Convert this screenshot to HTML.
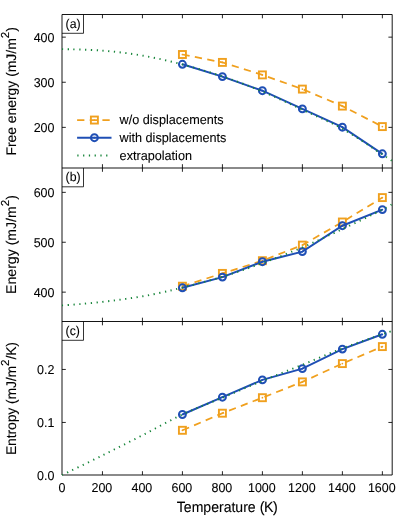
<!DOCTYPE html><html><head><meta charset="utf-8"><title>Chart</title><style>html,body{margin:0;padding:0;background:#fff}svg{display:block;will-change:transform;text-rendering:geometricPrecision}text{stroke:#000;stroke-width:0.08px;stroke-linejoin:round}.L{stroke-width:0.1px}</style></head><body><svg width="415" height="516" viewBox="0 0 415 516">
<rect width="415" height="516" fill="#fff"/>
<defs>
<clipPath id="c0"><rect x="61.4" y="13.9" width="331.4" height="154.7"/></clipPath>
<clipPath id="c1"><rect x="61.4" y="167.4" width="331.4" height="154.7"/></clipPath>
<clipPath id="c2"><rect x="61.4" y="320.9" width="331.4" height="154.7"/></clipPath>
</defs>
<path d="M83.5,14.5v18.8H62.0" fill="none" stroke="#000" stroke-width="0.8"/>
<path d="M83.5,168.0v18.8H62.0" fill="none" stroke="#000" stroke-width="0.8"/>
<path d="M83.5,321.5v18.8H62.0" fill="none" stroke="#000" stroke-width="0.8"/>
<path d="M62.0,14.5H392.2V475.0H62.0ZM62.0,168.0H392.2M62.0,321.5H392.2" fill="none" stroke="#000" stroke-width="0.92"/>
<text transform="translate(54.5,41.85) scale(1,1.03)" text-anchor="end" font-family="Liberation Sans, sans-serif" font-size="12.5" fill="#000">400</text>
<text transform="translate(54.5,86.96) scale(1,1.03)" text-anchor="end" font-family="Liberation Sans, sans-serif" font-size="12.5" fill="#000">300</text>
<text transform="translate(54.5,132.07) scale(1,1.03)" text-anchor="end" font-family="Liberation Sans, sans-serif" font-size="12.5" fill="#000">200</text>
<text transform="translate(54.5,197.05) scale(1,1.03)" text-anchor="end" font-family="Liberation Sans, sans-serif" font-size="12.5" fill="#000">600</text>
<text transform="translate(54.5,246.95) scale(1,1.03)" text-anchor="end" font-family="Liberation Sans, sans-serif" font-size="12.5" fill="#000">500</text>
<text transform="translate(54.5,296.85) scale(1,1.03)" text-anchor="end" font-family="Liberation Sans, sans-serif" font-size="12.5" fill="#000">400</text>
<text transform="translate(54.5,374.15) scale(1,1.03)" text-anchor="end" font-family="Liberation Sans, sans-serif" font-size="12.5" fill="#000">0.2</text>
<text transform="translate(54.5,427.15) scale(1,1.03)" text-anchor="end" font-family="Liberation Sans, sans-serif" font-size="12.5" fill="#000">0.1</text>
<text transform="translate(54.5,480.15) scale(1,1.03)" text-anchor="end" font-family="Liberation Sans, sans-serif" font-size="12.5" fill="#000">0.0</text>
<path d="M102.44,14.5v3.8M102.44,168.0v-3.8M102.44,168.0v3.8M102.44,321.5v-3.8M102.44,321.5v3.8M102.44,475.0v-3.8M142.43,14.5v3.8M142.43,168.0v-3.8M142.43,168.0v3.8M142.43,321.5v-3.8M142.43,321.5v3.8M142.43,475.0v-3.8M182.42,14.5v3.8M182.42,168.0v-3.8M182.42,168.0v3.8M182.42,321.5v-3.8M182.42,321.5v3.8M182.42,475.0v-3.8M222.41,14.5v3.8M222.41,168.0v-3.8M222.41,168.0v3.8M222.41,321.5v-3.8M222.41,321.5v3.8M222.41,475.0v-3.8M262.40,14.5v3.8M262.40,168.0v-3.8M262.40,168.0v3.8M262.40,321.5v-3.8M262.40,321.5v3.8M262.40,475.0v-3.8M302.39,14.5v3.8M302.39,168.0v-3.8M302.39,168.0v3.8M302.39,321.5v-3.8M302.39,321.5v3.8M302.39,475.0v-3.8M342.38,14.5v3.8M342.38,168.0v-3.8M342.38,168.0v3.8M342.38,321.5v-3.8M342.38,321.5v3.8M342.38,475.0v-3.8M382.37,14.5v3.8M382.37,168.0v-3.8M382.37,168.0v3.8M382.37,321.5v-3.8M382.37,321.5v3.8M382.37,475.0v-3.8M62.0,37.15h3.8M392.2,37.15h-3.8M62.0,82.26h3.8M392.2,82.26h-3.8M62.0,127.37h3.8M392.2,127.37h-3.8M62.0,192.35h3.8M392.2,192.35h-3.8M62.0,242.25h3.8M392.2,242.25h-3.8M62.0,292.15h3.8M392.2,292.15h-3.8M62.0,369.45h3.8M392.2,369.45h-3.8M62.0,422.45h3.8M392.2,422.45h-3.8" stroke="#000" stroke-width="0.85" fill="none"/>
<text transform="translate(61.90,491.8) scale(1,1.03)" text-anchor="middle" font-family="Liberation Sans, sans-serif" font-size="12.5" fill="#000">0</text>
<text transform="translate(101.89,491.8) scale(1,1.03)" text-anchor="middle" font-family="Liberation Sans, sans-serif" font-size="12.5" fill="#000">200</text>
<text transform="translate(141.88,491.8) scale(1,1.03)" text-anchor="middle" font-family="Liberation Sans, sans-serif" font-size="12.5" fill="#000">400</text>
<text transform="translate(181.87,491.8) scale(1,1.03)" text-anchor="middle" font-family="Liberation Sans, sans-serif" font-size="12.5" fill="#000">600</text>
<text transform="translate(221.86,491.8) scale(1,1.03)" text-anchor="middle" font-family="Liberation Sans, sans-serif" font-size="12.5" fill="#000">800</text>
<text transform="translate(261.85,491.8) scale(1,1.03)" text-anchor="middle" font-family="Liberation Sans, sans-serif" font-size="12.5" fill="#000">1000</text>
<text transform="translate(301.84,491.8) scale(1,1.03)" text-anchor="middle" font-family="Liberation Sans, sans-serif" font-size="12.5" fill="#000">1200</text>
<text transform="translate(341.83,491.8) scale(1,1.03)" text-anchor="middle" font-family="Liberation Sans, sans-serif" font-size="12.5" fill="#000">1400</text>
<text transform="translate(381.82,491.8) scale(1,1.03)" text-anchor="middle" font-family="Liberation Sans, sans-serif" font-size="12.5" fill="#000">1600</text>
<g clip-path="url(#c0)">
<polyline points="182.42,54.50 222.41,62.40 262.40,74.90 302.39,89.10 342.38,106.10 382.37,126.60" fill="none" stroke="#F0A01E" stroke-width="1.75" stroke-dasharray="7.3 5.35"/>
<rect x="178.92" y="51.00" width="7.0" height="7.0" fill="none" stroke="#F0A01E" stroke-width="1.9"/>
<circle cx="182.42" cy="54.50" r="0.85" fill="#F0A01E"/>
<rect x="218.91" y="58.90" width="7.0" height="7.0" fill="none" stroke="#F0A01E" stroke-width="1.9"/>
<circle cx="222.41" cy="62.40" r="0.85" fill="#F0A01E"/>
<rect x="258.90" y="71.40" width="7.0" height="7.0" fill="none" stroke="#F0A01E" stroke-width="1.9"/>
<circle cx="262.40" cy="74.90" r="0.85" fill="#F0A01E"/>
<rect x="298.89" y="85.60" width="7.0" height="7.0" fill="none" stroke="#F0A01E" stroke-width="1.9"/>
<circle cx="302.39" cy="89.10" r="0.85" fill="#F0A01E"/>
<rect x="338.88" y="102.60" width="7.0" height="7.0" fill="none" stroke="#F0A01E" stroke-width="1.9"/>
<circle cx="342.38" cy="106.10" r="0.85" fill="#F0A01E"/>
<rect x="378.87" y="123.10" width="7.0" height="7.0" fill="none" stroke="#F0A01E" stroke-width="1.9"/>
<circle cx="382.37" cy="126.60" r="0.85" fill="#F0A01E"/>
<polyline points="182.42,64.30 222.41,76.60 262.40,90.70 302.39,108.90 342.38,127.20 382.37,153.80" fill="none" stroke="#1F4FB5" stroke-width="2.0"/>
<circle cx="182.42" cy="64.30" r="3.45" fill="none" stroke="#1F4FB5" stroke-width="2.0"/>
<circle cx="182.42" cy="64.30" r="0.85" fill="#1F4FB5"/>
<circle cx="222.41" cy="76.60" r="3.45" fill="none" stroke="#1F4FB5" stroke-width="2.0"/>
<circle cx="222.41" cy="76.60" r="0.85" fill="#1F4FB5"/>
<circle cx="262.40" cy="90.70" r="3.45" fill="none" stroke="#1F4FB5" stroke-width="2.0"/>
<circle cx="262.40" cy="90.70" r="0.85" fill="#1F4FB5"/>
<circle cx="302.39" cy="108.90" r="3.45" fill="none" stroke="#1F4FB5" stroke-width="2.0"/>
<circle cx="302.39" cy="108.90" r="0.85" fill="#1F4FB5"/>
<circle cx="342.38" cy="127.20" r="3.45" fill="none" stroke="#1F4FB5" stroke-width="2.0"/>
<circle cx="342.38" cy="127.20" r="0.85" fill="#1F4FB5"/>
<circle cx="382.37" cy="153.80" r="3.45" fill="none" stroke="#1F4FB5" stroke-width="2.0"/>
<circle cx="382.37" cy="153.80" r="0.85" fill="#1F4FB5"/>
<path d="M62.00,49.10 C68.67,49.35 88.67,49.53 102.00,50.60 C115.33,51.67 128.63,53.20 142.00,55.50 C155.37,57.80 168.82,60.92 182.20,64.40 C195.58,67.88 208.98,71.92 222.30,76.40 C235.62,80.88 248.82,85.77 262.10,91.30 C275.38,96.83 288.67,103.38 302.00,109.60 C315.33,115.82 328.73,121.13 342.10,128.60 C355.47,136.07 373.85,149.00 382.20,154.40 C390.55,159.80 390.53,159.90 392.20,161.00" fill="none" stroke="#17853A" stroke-width="1.9" stroke-dasharray="1.25 4.52"/>
</g><g clip-path="url(#c1)">
<polyline points="182.42,286.20 222.41,273.40 262.40,260.70 302.39,245.10 342.38,222.00 382.37,197.60" fill="none" stroke="#F0A01E" stroke-width="1.75" stroke-dasharray="7.3 5.35"/>
<rect x="178.92" y="282.70" width="7.0" height="7.0" fill="none" stroke="#F0A01E" stroke-width="1.9"/>
<circle cx="182.42" cy="286.20" r="0.85" fill="#F0A01E"/>
<rect x="218.91" y="269.90" width="7.0" height="7.0" fill="none" stroke="#F0A01E" stroke-width="1.9"/>
<circle cx="222.41" cy="273.40" r="0.85" fill="#F0A01E"/>
<rect x="258.90" y="257.20" width="7.0" height="7.0" fill="none" stroke="#F0A01E" stroke-width="1.9"/>
<circle cx="262.40" cy="260.70" r="0.85" fill="#F0A01E"/>
<rect x="298.89" y="241.60" width="7.0" height="7.0" fill="none" stroke="#F0A01E" stroke-width="1.9"/>
<circle cx="302.39" cy="245.10" r="0.85" fill="#F0A01E"/>
<rect x="338.88" y="218.50" width="7.0" height="7.0" fill="none" stroke="#F0A01E" stroke-width="1.9"/>
<circle cx="342.38" cy="222.00" r="0.85" fill="#F0A01E"/>
<rect x="378.87" y="194.10" width="7.0" height="7.0" fill="none" stroke="#F0A01E" stroke-width="1.9"/>
<circle cx="382.37" cy="197.60" r="0.85" fill="#F0A01E"/>
<polyline points="182.42,287.80 222.41,277.10 262.40,261.70 302.39,251.60 342.38,225.70 382.37,209.60" fill="none" stroke="#1F4FB5" stroke-width="2.0"/>
<circle cx="182.42" cy="287.80" r="3.45" fill="none" stroke="#1F4FB5" stroke-width="2.0"/>
<circle cx="182.42" cy="287.80" r="0.85" fill="#1F4FB5"/>
<circle cx="222.41" cy="277.10" r="3.45" fill="none" stroke="#1F4FB5" stroke-width="2.0"/>
<circle cx="222.41" cy="277.10" r="0.85" fill="#1F4FB5"/>
<circle cx="262.40" cy="261.70" r="3.45" fill="none" stroke="#1F4FB5" stroke-width="2.0"/>
<circle cx="262.40" cy="261.70" r="0.85" fill="#1F4FB5"/>
<circle cx="302.39" cy="251.60" r="3.45" fill="none" stroke="#1F4FB5" stroke-width="2.0"/>
<circle cx="302.39" cy="251.60" r="0.85" fill="#1F4FB5"/>
<circle cx="342.38" cy="225.70" r="3.45" fill="none" stroke="#1F4FB5" stroke-width="2.0"/>
<circle cx="342.38" cy="225.70" r="0.85" fill="#1F4FB5"/>
<circle cx="382.37" cy="209.60" r="3.45" fill="none" stroke="#1F4FB5" stroke-width="2.0"/>
<circle cx="382.37" cy="209.60" r="0.85" fill="#1F4FB5"/>
<path d="M62.00,305.40 C65.00,305.18 73.33,304.68 80.00,304.10 C86.67,303.52 95.00,302.68 102.00,301.90 C109.00,301.12 115.33,300.32 122.00,299.40 C128.67,298.48 135.33,297.57 142.00,296.40 C148.67,295.23 155.30,293.87 162.00,292.40 C168.70,290.93 172.15,290.20 182.20,287.60 C192.25,285.00 208.98,280.87 222.30,276.80 C235.62,272.73 248.82,268.08 262.10,263.20 C275.38,258.32 288.67,253.17 302.00,247.50 C315.33,241.83 328.73,235.48 342.10,229.20 C355.47,222.92 373.85,214.00 382.20,209.80 C390.55,205.60 390.53,204.97 392.20,204.00" fill="none" stroke="#17853A" stroke-width="1.9" stroke-dasharray="1.25 4.52"/>
</g><g clip-path="url(#c2)">
<polyline points="182.42,430.30 222.41,413.20 262.40,397.70 302.39,381.90 342.38,363.60 382.37,346.60" fill="none" stroke="#F0A01E" stroke-width="1.75" stroke-dasharray="7.3 5.35"/>
<rect x="178.92" y="426.80" width="7.0" height="7.0" fill="none" stroke="#F0A01E" stroke-width="1.9"/>
<circle cx="182.42" cy="430.30" r="0.85" fill="#F0A01E"/>
<rect x="218.91" y="409.70" width="7.0" height="7.0" fill="none" stroke="#F0A01E" stroke-width="1.9"/>
<circle cx="222.41" cy="413.20" r="0.85" fill="#F0A01E"/>
<rect x="258.90" y="394.20" width="7.0" height="7.0" fill="none" stroke="#F0A01E" stroke-width="1.9"/>
<circle cx="262.40" cy="397.70" r="0.85" fill="#F0A01E"/>
<rect x="298.89" y="378.40" width="7.0" height="7.0" fill="none" stroke="#F0A01E" stroke-width="1.9"/>
<circle cx="302.39" cy="381.90" r="0.85" fill="#F0A01E"/>
<rect x="338.88" y="360.10" width="7.0" height="7.0" fill="none" stroke="#F0A01E" stroke-width="1.9"/>
<circle cx="342.38" cy="363.60" r="0.85" fill="#F0A01E"/>
<rect x="378.87" y="343.10" width="7.0" height="7.0" fill="none" stroke="#F0A01E" stroke-width="1.9"/>
<circle cx="382.37" cy="346.60" r="0.85" fill="#F0A01E"/>
<polyline points="182.42,414.50 222.41,397.20 262.40,379.90 302.39,368.60 342.38,349.10 382.37,334.30" fill="none" stroke="#1F4FB5" stroke-width="2.0"/>
<circle cx="182.42" cy="414.50" r="3.45" fill="none" stroke="#1F4FB5" stroke-width="2.0"/>
<circle cx="182.42" cy="414.50" r="0.85" fill="#1F4FB5"/>
<circle cx="222.41" cy="397.20" r="3.45" fill="none" stroke="#1F4FB5" stroke-width="2.0"/>
<circle cx="222.41" cy="397.20" r="0.85" fill="#1F4FB5"/>
<circle cx="262.40" cy="379.90" r="3.45" fill="none" stroke="#1F4FB5" stroke-width="2.0"/>
<circle cx="262.40" cy="379.90" r="0.85" fill="#1F4FB5"/>
<circle cx="302.39" cy="368.60" r="3.45" fill="none" stroke="#1F4FB5" stroke-width="2.0"/>
<circle cx="302.39" cy="368.60" r="0.85" fill="#1F4FB5"/>
<circle cx="342.38" cy="349.10" r="3.45" fill="none" stroke="#1F4FB5" stroke-width="2.0"/>
<circle cx="342.38" cy="349.10" r="0.85" fill="#1F4FB5"/>
<circle cx="382.37" cy="334.30" r="3.45" fill="none" stroke="#1F4FB5" stroke-width="2.0"/>
<circle cx="382.37" cy="334.30" r="0.85" fill="#1F4FB5"/>
<path d="M62.00,475.20 C68.67,471.93 88.67,462.22 102.00,455.60 C115.33,448.98 128.60,442.35 142.00,435.50 C155.40,428.65 169.02,420.78 182.40,414.50 C195.78,408.22 209.02,403.38 222.30,397.80 C235.58,392.22 248.82,386.48 262.10,381.00 C275.38,375.52 288.67,370.32 302.00,364.90 C315.33,359.48 328.73,353.60 342.10,348.50 C355.47,343.40 373.85,337.22 382.20,334.30 C390.55,331.38 390.53,331.55 392.20,331.00" fill="none" stroke="#17853A" stroke-width="1.9" stroke-dasharray="1.25 4.52"/>
</g>
<path d="M77.1,120.05h7.3M89.75,120.05h7.3M102.4,120.05h7.3" stroke="#F0A01E" stroke-width="1.75" fill="none"/>
<rect x="90.90" y="116.55" width="7.0" height="7.0" fill="none" stroke="#F0A01E" stroke-width="1.9"/>
<circle cx="94.40" cy="120.05" r="0.85" fill="#F0A01E"/>
<line x1="77.1" y1="137.7" x2="111.5" y2="137.7" stroke="#1F4FB5" stroke-width="1.9"/>
<circle cx="94.40" cy="137.70" r="3.45" fill="none" stroke="#1F4FB5" stroke-width="2.0"/>
<circle cx="94.40" cy="137.70" r="0.85" fill="#1F4FB5"/>
<line x1="77.3" y1="155.5" x2="111.4" y2="155.5" stroke="#17853A" stroke-width="1.9" stroke-dasharray="1.25 4.52"/>
<text transform="translate(119.6,124.25) scale(1,1.03)" font-family="Liberation Sans, sans-serif" font-size="12.65" fill="#000">w/o displacements</text>
<text transform="translate(119.6,142.10) scale(1,1.03)" font-family="Liberation Sans, sans-serif" font-size="12.65" fill="#000">with displacements</text>
<text transform="translate(119.6,159.90) scale(1,1.03)" font-family="Liberation Sans, sans-serif" font-size="12.65" fill="#000">extrapolation</text>
<text transform="translate(65.6,27.90) scale(1,1.03)" font-family="Liberation Sans, sans-serif" font-size="12.3" fill="#000">(a)</text>
<text transform="translate(65.6,181.40) scale(1,1.03)" font-family="Liberation Sans, sans-serif" font-size="12.3" fill="#000">(b)</text>
<text transform="translate(65.6,334.90) scale(1,1.03)" font-family="Liberation Sans, sans-serif" font-size="12.3" fill="#000">(c)</text>
<text class="L" transform="translate(176.8,511.5) scale(1,1.05)" font-family="Liberation Sans, sans-serif" font-size="14.05" fill="#000">Temperature</text>
<text class="L" transform="translate(259.7,511.5) scale(1,1.05)" letter-spacing="-0.5" font-family="Liberation Sans, sans-serif" font-size="14.3" fill="#000">(K)</text>
<text class="L" transform="translate(16.1,91.4) rotate(-90)" text-anchor="middle" letter-spacing="0" font-family="Liberation Sans, sans-serif" font-size="13.9" fill="#000">Free energy (mJ/m<tspan dy="-6.7" font-size="11.6">2</tspan><tspan dy="6.7">)</tspan></text>
<text class="L" transform="translate(16.1,244.5) rotate(-90)" text-anchor="middle" letter-spacing="0" font-family="Liberation Sans, sans-serif" font-size="14.1" fill="#000">Energy (mJ/m<tspan dy="-6.7" font-size="11.6">2</tspan><tspan dy="6.7">)</tspan></text>
<text class="L" transform="translate(16.1,398.6) rotate(-90)" text-anchor="middle" letter-spacing="-0.14" font-family="Liberation Sans, sans-serif" font-size="14.0" fill="#000">Entropy (mJ/m<tspan dy="-6.7" font-size="11.6">2</tspan><tspan dy="6.7">/K)</tspan></text>
</svg></body></html>
